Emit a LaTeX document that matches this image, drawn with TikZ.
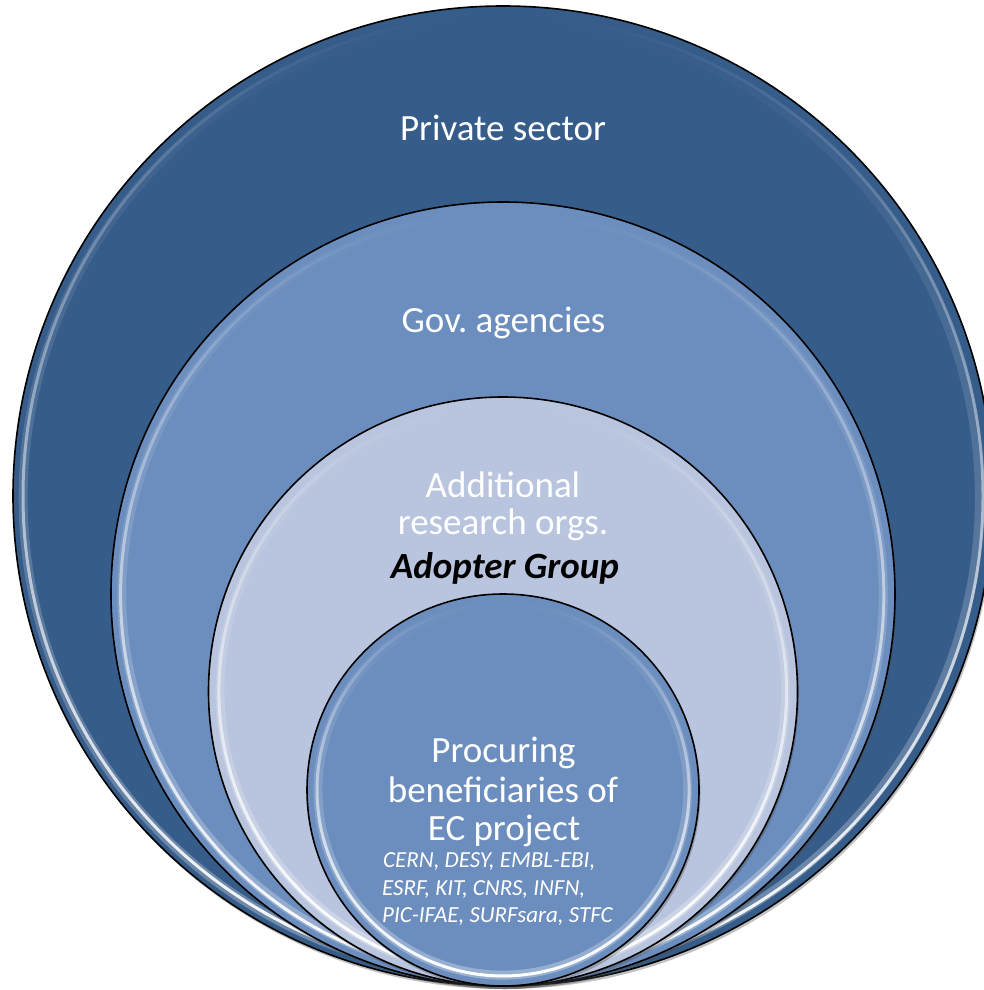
\documentclass[tikz,border=0pt]{standalone}
\usepackage{fontspec}
\setmainfont{Carlito}
\usetikzlibrary{shadows,fadings}
\definecolor{ringA}{HTML}{365C8A}
\definecolor{ringB}{HTML}{6C8EBE}
\definecolor{ringC}{HTML}{B9C5DE}
\tikzfading[name=hlfade, top color=transparent!100, middle color=transparent!5, bottom color=transparent!0]
\tikzset{
  disc/.style={circle, draw=black, line width=1.6pt, inner sep=0pt, outer sep=0pt,
    drop shadow={shadow xshift=1.5pt, shadow yshift=-3pt, opacity=0.35, fill=black!70}},
  hlsoft/.style={draw=white, line width=9pt, opacity=0.3, path fading=hlfade},
  hl/.style={draw=white, line width=3pt, opacity=1, path fading=hlfade},
  bigtxt/.style={text=white, font=\fontsize{37}{40}\selectfont, inner sep=0pt, anchor=base},
  smalltxt/.style={text=white, font=\fontsize{23}{27}\selectfont\itshape, inner sep=0pt, anchor=base west}
}
\frenchspacing
\begin{document}
\begin{tikzpicture}[x=1pt,y=-1pt]
\useasboundingbox (0,0) rectangle (984,990);
\clip (0,0) rectangle (984,990);
% outer
\node[disc, fill=ringA, minimum size=980pt] (outer) at (503,496) {};
\draw[hlsoft] (outer.center) circle[radius=479];
\draw[hl] (outer.center) circle[radius=480];
% second
\node[disc, fill=ringB, minimum size=784pt] (gov) at (503,594) {};
\draw[hlsoft] (gov.center) circle[radius=381];
\draw[hl] (gov.center) circle[radius=382];
% third
\node[disc, fill=ringC, minimum size=589pt] (add) at (503,691.5) {};
\draw[hlsoft] (add.center) circle[radius=283];
\draw[hl] (add.center) circle[radius=284];
% inner
\node[disc, fill=ringB, minimum size=392pt] (proc) at (503,790) {};
\draw[hlsoft] (proc.center) circle[radius=185];
\draw[hl] (proc.center) circle[radius=186];
% texts
\node[bigtxt] (t1) at (503,140) {Private sector};
\node[bigtxt] (t2) at (503.5,332) {Gov. agencies};
\node[bigtxt] (t3) at (503,497) {Additional};
\node[bigtxt] (t4) at (503,534) {research orgs.};
\node[bigtxt, text=black, font=\fontsize{37}{40}\selectfont\bfseries\itshape] (t5) at (505,578) {Adopter Group};
\node[bigtxt] (t6) at (503.5,762) {Procuring};
\node[bigtxt] (t7) at (503,802) {beneficiaries of};
\node[bigtxt] (t8) at (504,840) {EC project};
\node[smalltxt] (s1) at (383,867) {CERN, DESY, EMBL-EBI,};
\node[smalltxt] (s2) at (382,895) {ESRF, KIT, CNRS, INFN,};
\node[smalltxt] (s3) at (382,922) {PIC-IFAE, SURFsara, STFC};
\end{tikzpicture}
\end{document}
